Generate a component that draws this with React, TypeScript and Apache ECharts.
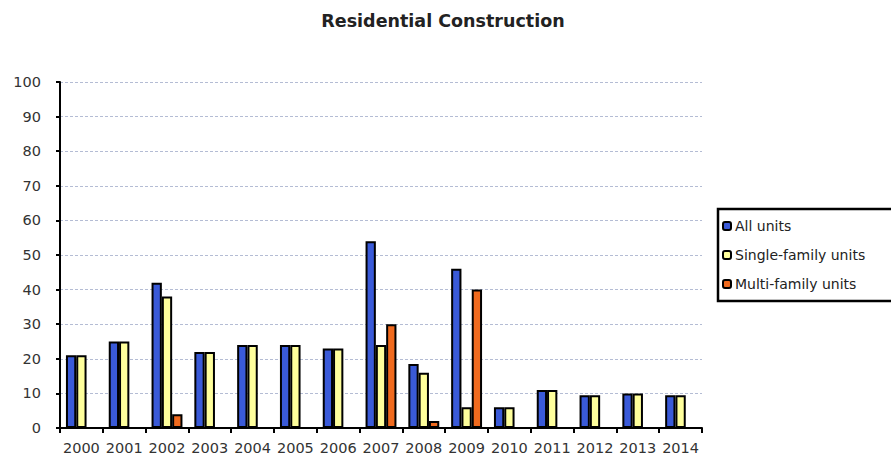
import React, { useEffect, useRef } from "react";
import * as echarts from "echarts";

const categories = ["2000","2001","2002","2003","2004","2005","2006","2007","2008","2009","2010","2011","2012","2013","2014"];
const allUnits = [21, 25, 42, 22, 24, 24, 23, 54, 18.5, 46, 6, 11, 9.5, 10, 9.5];
const singleFamily = [21, 25, 38, 22, 24, 24, 23, 24, 16, 6, 6, 11, 9.5, 10, 9.5];
const multiFamily = [null, null, 4, null, null, null, null, 30, 2, 40, null, null, null, null, null];
const seriesNames = ["All units", "Single-family units", "Multi-family units"];
const colors = ["#3a5ad8", "#ffff9c", "#f06a1e"];

export default function App() {
  const ref = useRef<HTMLDivElement>(null);
  useEffect(() => {
    if (!ref.current) return;
    const chart = echarts.init(ref.current, null, { renderer: "svg" });
    const font = "'DejaVu Sans', sans-serif";
    const dataSets = [allUnits, singleFamily, multiFamily];
    chart.setOption({
      animation: false,
      backgroundColor: "#ffffff",
      textStyle: { fontFamily: font },
      title: {
        text: "Residential Construction",
        left: 438,
        textAlign: "center",
        top: 7,
        textStyle: { fontFamily: font, fontSize: 17.5, fontWeight: "bold", color: "#222" },
      },
      grid: { left: 60, top: 82, width: 642, height: 346, containLabel: false },
      legend: {
        orient: "vertical",
        left: 722,
        top: 219,
        itemWidth: 8,
        itemHeight: 8,
        itemGap: 15,
        padding: 0,
        textStyle: { fontFamily: font, fontSize: 14, color: "#222", padding: [0, 0, 0, -1] },
        data: seriesNames,
      },
      graphic: [
        {
          type: "rect",
          shape: { x: 718, y: 209, width: 200, height: 92 },
          style: { fill: "none", stroke: "#000", lineWidth: 2.5 },
        },
      ],
      xAxis: {
        type: "category",
        data: categories,
        axisLine: { lineStyle: { color: "#000", width: 2 } },
        axisTick: { show: true, length: 5, lineStyle: { color: "#000", width: 2 } },
        axisLabel: { fontFamily: font, fontSize: 14.5, color: "#333", margin: 12, interval: 0 },
      },
      yAxis: {
        type: "value",
        min: 0,
        max: 100,
        interval: 10,
        axisLine: { show: true, lineStyle: { color: "#000", width: 2 } },
        axisTick: { show: true, length: 4, lineStyle: { color: "#000", width: 2 } },
        axisLabel: { fontFamily: font, fontSize: 14.5, color: "#333", margin: 19 },
        splitLine: { show: true, lineStyle: { color: "#b4bcd4", width: 1, type: [3, 2] } },
      },
      series: seriesNames.map((name, i) => ({
        name,
        type: "bar",
        data: dataSets[i],
        barWidth: 10.3,
        barGap: "0%",
        barCategoryGap: "28%",
        itemStyle: { color: colors[i], borderColor: "#000", borderWidth: 2 },
      })),
    });
    return () => chart.dispose();
  }, []);
  return (
    <div
      ref={ref}
      style={{ position: "fixed", left: 0, top: 0, width: 891, height: 458 }}
    />
  );
}
